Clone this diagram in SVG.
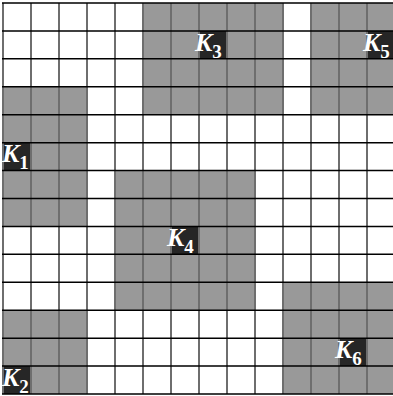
<svg xmlns="http://www.w3.org/2000/svg" width="393" height="396" viewBox="0 0 393 396">
<style>
.blk{fill:#999999}
.lab{fill:#262626}
.t{font-family:"Liberation Serif","Times New Roman",serif;font-style:italic;font-weight:bold;font-size:26px;fill:#ffffff}
.s{font-size:19px;font-style:normal}
.vl{stroke:#6e6e6e;stroke-width:2;fill:none}
.hl{stroke:#000000;stroke-width:1.5;fill:none}
</style>
<rect x="0" y="0" width="393" height="396" fill="#ffffff"/>
<g id="K1">
<rect class="blk" x="3" y="86.79" width="84" height="139.65"/>
<rect class="lab" x="3" y="142.65" width="28" height="27.93"/>
</g>
<g id="K2">
<rect class="blk" x="3" y="310.23" width="84" height="83.79"/>
<rect class="lab" x="3" y="366.09" width="28" height="27.93"/>
</g>
<g id="K3">
<rect class="blk" x="143" y="3" width="140" height="111.72"/>
<rect class="lab" x="199" y="30.93" width="28" height="27.93"/>
</g>
<g id="K4">
<rect class="blk" x="115" y="170.58" width="140" height="139.65"/>
<rect class="lab" x="171" y="226.44" width="28" height="27.93"/>
</g>
<g id="K5">
<rect class="blk" x="311" y="3" width="84" height="111.72"/>
<rect class="lab" x="367" y="30.93" width="28" height="27.93"/>
</g>
<g id="K6">
<rect class="blk" x="283" y="282.3" width="112" height="111.72"/>
<rect class="lab" x="339" y="338.16" width="28" height="27.93"/>
</g>
<g id="grid">
<path class="vl" d="M3 3V394 M31 3V394 M59 3V394 M87 3V394 M115 3V394 M143 3V394 M171 3V394 M199 3V394 M227 3V394 M255 3V394 M283 3V394 M311 3V394 M339 3V394 M367 3V394"/>
<path class="hl" d="M2 3H395 M2 30.93H395 M2 58.86H395 M2 86.79H395 M2 114.72H395 M2 142.65H395 M2 170.58H395 M2 198.51H395 M2 226.44H395 M2 254.37H395 M2 282.3H395 M2 310.23H395 M2 338.16H395 M2 366.09H395 M2 394.02H395"/>
</g>
<g id="labels">
<text class="t" x="2" y="162.2">K<tspan class="s" dy="7">1</tspan></text>
<text class="t" x="2" y="385.6">K<tspan class="s" dy="7">2</tspan></text>
<text class="t" x="195" y="50.5">K<tspan class="s" dy="7">3</tspan></text>
<text class="t" x="167" y="246">K<tspan class="s" dy="7">4</tspan></text>
<text class="t" x="363" y="50.5">K<tspan class="s" dy="7">5</tspan></text>
<text class="t" x="335" y="357.7">K<tspan class="s" dy="7">6</tspan></text>
</g>
</svg>
